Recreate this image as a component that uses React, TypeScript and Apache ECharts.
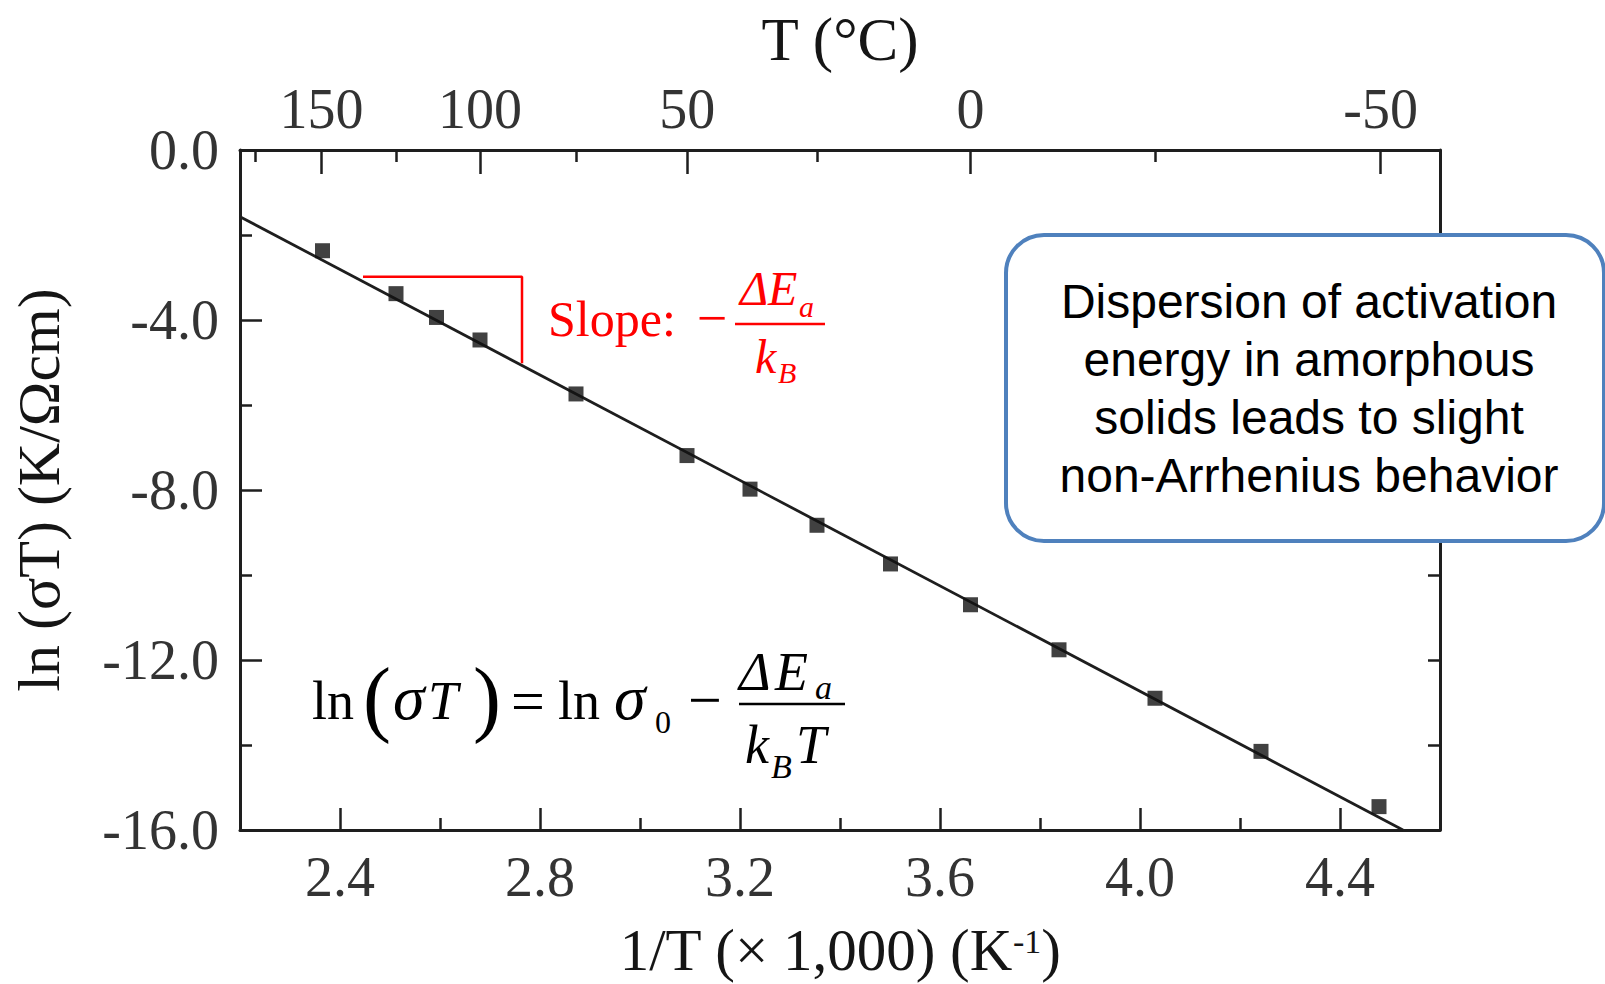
import React, { useEffect, useRef } from 'react';
import * as echarts from 'echarts';

// ---- data ----
const invT = [2.365, 2.512, 2.593, 2.680, 2.872, 3.094, 3.220, 3.354, 3.501, 3.661, 3.838, 4.030, 4.242, 4.478];
const lnSigmaT = [-2.37, -3.38, -3.94, -4.47, -5.74, -7.19, -7.98, -8.83, -9.74, -10.70, -11.76, -12.90, -14.15, -15.45];
const fitX = [2.2, 4.526];
const fitY = [-1.57, -16.0];
const slopeX = [2.446, 2.764, 2.764];
const slopeY = [-2.98, -2.98, -5.02];
const xTicksMajor = [2.4, 2.8, 3.2, 3.6, 4.0, 4.4];
const xTicksMinor = [2.6, 3.0, 3.4, 3.8, 4.2];
const tempMajor = [150, 100, 50, 0, -50];
const tempMinor = [175, 125, 75, 25, -25];
const boxLines = [
  'Dispersion of activation',
  'energy in amorphous',
  'solids leads to slight',
  'non-Arrhenius behavior',
];

const SERIF = "'Liberation Serif', 'Times New Roman', serif";
const SANS = "'Liberation Sans', Arial, sans-serif";
const AX = '#1e1e1e';
const LBL = '#333';
const TITLE = '#151515';
const RED = '#ff0000';

const toInv = (t: number) => 1000 / (t + 273.15);

function txt(text: string, x: number, baseline: number, size: number, opts: any = {}) {
  return {
    type: 'text',
    x,
    y: baseline - 0.3375 * size,
    z: 100,
    silent: true,
    style: {
      text,
      fontSize: size,
      fontFamily: SERIF,
      fontStyle: opts.italic ? 'italic' : 'normal',
      fill: opts.color || '#000',
      align: opts.align || 'left',
      verticalAlign: 'middle',
    },
  };
}

function hline(x1: number, x2: number, y: number, color: string) {
  return {
    type: 'line',
    z: 100,
    silent: true,
    shape: { x1, y1: y, x2, y2: y },
    style: { stroke: color, lineWidth: 2.5 },
  };
}

export default function App() {
  const ref = useRef<HTMLDivElement>(null);

  useEffect(() => {
    const chart = echarts.init(ref.current!, null, { renderer: 'svg' });

    const tickStyle = { color: AX, width: 2.5 };
    const lineOn = { show: true, onZero: false, lineStyle: { color: AX, width: 3 } };
    const lineOff = { show: false, onZero: false };
    const option: any = {
      animation: false,
      backgroundColor: '#fff',
      grid: { left: 240, right: 165, top: 150, bottom: 154, containLabel: false, outerBoundsMode: 'none' },
      xAxis: [
        {
          type: 'value',
          position: 'bottom',
          min: 2.2,
          max: 4.6,
          axisLine: lineOn,
          axisTick: { show: true, inside: true, length: 22, customValues: xTicksMajor, lineStyle: tickStyle },
          axisLabel: {
            show: true,
            customValues: xTicksMajor,
            formatter: (v: number) => v.toFixed(1),
            fontFamily: SERIF,
            fontSize: 56,
            color: LBL,
            margin: 19,
          },
          splitLine: { show: false },
          name: '1/T (× 1,000) (K{sup|-1})',
          nameLocation: 'middle',
          nameGap: 94,
          nameMoveOverlap: false,
          nameTextStyle: {
            fontFamily: SERIF,
            fontSize: 59,
            lineHeight: 52,
            color: TITLE,
            rich: { sup: { fontFamily: SERIF, fontSize: 34, color: TITLE, verticalAlign: 'top' } },
          },
        },
        {
          type: 'value',
          position: 'bottom',
          min: 2.2,
          max: 4.6,
          axisLine: lineOff,
          axisTick: { show: true, inside: true, length: 12, customValues: xTicksMinor, lineStyle: tickStyle },
          axisLabel: { show: false },
          splitLine: { show: false },
        },
        {
          type: 'value',
          position: 'top',
          min: 2.2,
          max: 4.6,
          axisLine: lineOn,
          axisTick: { show: true, inside: true, length: 24, customValues: tempMajor.map(toInv), lineStyle: tickStyle },
          axisLabel: {
            show: true,
            customValues: tempMajor.map(toInv),
            formatter: (v: number) => String(Math.round(1000 / v - 273.15)),
            fontFamily: SERIF,
            fontSize: 56,
            color: LBL,
            margin: 13,
          },
          splitLine: { show: false },
          name: 'T (°C)',
          nameLocation: 'middle',
          nameGap: 80,
          nameMoveOverlap: false,
          nameTextStyle: { fontFamily: SERIF, fontSize: 61, color: TITLE },
        },
        {
          type: 'value',
          position: 'top',
          min: 2.2,
          max: 4.6,
          axisLine: lineOff,
          axisTick: { show: true, inside: true, length: 12, customValues: tempMinor.map(toInv), lineStyle: tickStyle },
          axisLabel: { show: false },
          splitLine: { show: false },
        },
      ],
      yAxis: [
        {
          type: 'value',
          position: 'left',
          min: -16,
          max: 0,
          interval: 4,
          axisLine: lineOn,
          axisTick: { show: true, inside: true, length: 22, lineStyle: tickStyle },
          minorTick: { show: true, splitNumber: 2, length: 12, lineStyle: tickStyle },
          axisLabel: {
            formatter: (v: number) => v.toFixed(1),
            fontFamily: SERIF,
            fontSize: 56,
            color: LBL,
            margin: 21,
          },
          splitLine: { show: false },
          minorSplitLine: { show: false },
          name: 'ln (σT) (K/Ωcm)',
          nameLocation: 'middle',
          nameGap: 171,
          nameMoveOverlap: false,
          nameTextStyle: { fontFamily: SERIF, fontSize: 60, color: TITLE },
        },
        {
          type: 'value',
          position: 'right',
          min: -16,
          max: 0,
          interval: 2,
          axisLine: lineOn,
          axisTick: { show: true, inside: true, length: 12, lineStyle: tickStyle },
          axisLabel: { show: false },
          splitLine: { show: false },
        },
      ],
      series: [
        {
          type: 'line',
          data: fitX.map((x, i) => [x, fitY[i]]),
          symbol: 'none',
          lineStyle: { color: AX, width: 2.8 },
          z: 3,
          silent: true,
        },
        {
          type: 'line',
          data: slopeX.map((x, i) => [x, slopeY[i]]),
          symbol: 'none',
          lineStyle: { color: RED, width: 2.5 },
          z: 3,
          silent: true,
        },
        {
          type: 'scatter',
          data: invT.map((x, i) => [x, lnSigmaT[i]]),
          symbol: 'rect',
          symbolSize: 15,
          itemStyle: { color: '#111' },
          z: 5,
          silent: true,
        },
      ],
      graphic: [
        // slope annotation (red)
        txt('Slope:', 548, 336, 50, { color: RED }),
        txt('−', 712, 336.7, 54, { color: RED, align: 'center' }),
        hline(735, 825, 324, RED),
        txt('Δ', 740, 305, 48, { color: RED, italic: true }),
        txt('E', 768, 305, 48, { color: RED, italic: true }),
        txt('a', 799, 317, 30, { color: RED, italic: true }),
        txt('k', 755, 373, 48, { color: RED, italic: true }),
        txt('B', 778, 383, 30, { color: RED, italic: true }),
        // Arrhenius equation (black)
        txt('ln', 312, 719, 54),
        txt('(', 363, 726, 84),
        txt('σ', 393, 719, 64, { italic: true }),
        txt('T', 428, 719, 54, { italic: true }),
        txt(')', 473, 726, 84),
        txt('=', 528, 721, 60, { align: 'center' }),
        txt('ln', 558, 719, 54),
        txt('σ', 614, 719, 64, { italic: true }),
        txt('0', 655, 733, 32),
        txt('−', 705, 720, 60, { align: 'center' }),
        hline(739, 845, 704, '#000'),
        txt('Δ', 739, 690, 54, { italic: true }),
        txt('E', 775, 690, 54, { italic: true }),
        txt('a', 815, 699, 34, { italic: true }),
        txt('k', 745, 763, 54, { italic: true }),
        txt('B', 771, 778, 34, { italic: true }),
        txt('T', 796, 763, 54, { italic: true }),
        // callout box
        {
          type: 'rect',
          z: 100,
          silent: true,
          shape: { x: 1006, y: 235, width: 598, height: 306, r: 38 },
          style: { fill: '#fff', stroke: '#4f81bd', lineWidth: 4 },
        },
        {
          type: 'text',
          z: 101,
          silent: true,
          x: 1309,
          y: 388.4,
          style: {
            text: boxLines.join('\n'),
            fontSize: 48,
            fontFamily: SANS,
            fill: '#000',
            align: 'center',
            verticalAlign: 'middle',
            lineHeight: 58,
          },
        },
      ],
    };

    chart.setOption(option);
    return () => chart.dispose();
  }, []);

  return (
    <div
      ref={ref}
      style={{ position: 'fixed', left: 0, top: 0, width: 1605, height: 984, background: '#fff' }}
    />
  );
}
